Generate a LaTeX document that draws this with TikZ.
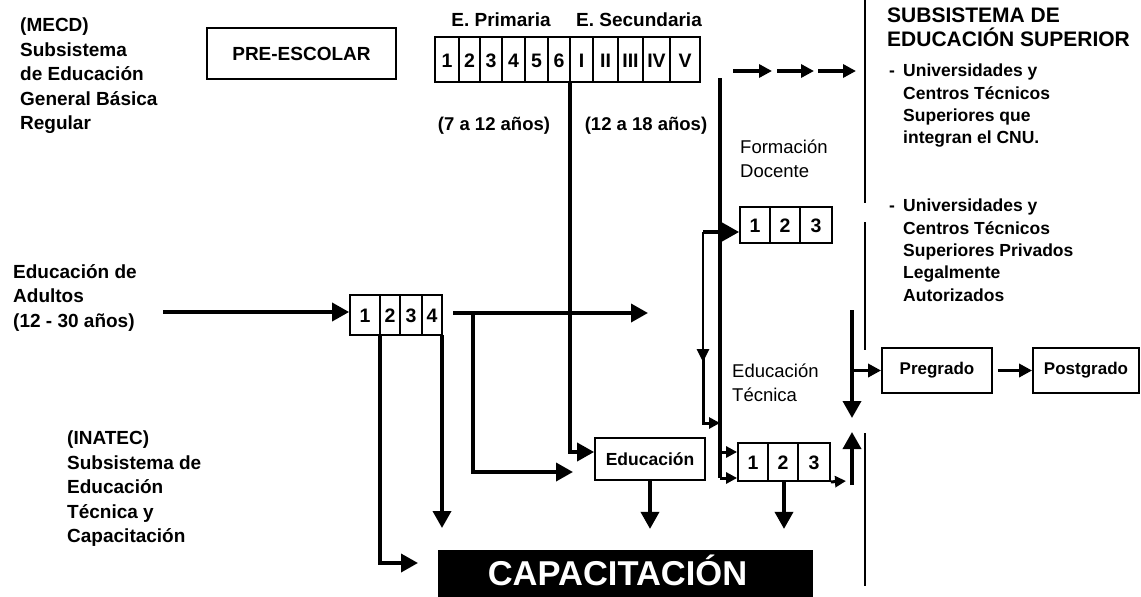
\documentclass[tikz,border=0pt]{standalone}
\usepackage{fontspec}
\setmainfont{Liberation Sans}
\usetikzlibrary{arrows.meta}
\begin{document}
\begin{tikzpicture}[x=1pt,y=-1pt,
  txt/.style={font=\fontsize{19}{24.5}\selectfont\bfseries, align=left, anchor=north west, inner sep=0pt},
  rtxt/.style={font=\fontsize{18.5}{24}\selectfont, align=left, anchor=north west, inner sep=0pt},
  ltxt/.style={font=\fontsize{17.5}{22.3}\selectfont\bfseries, align=left, anchor=north west, inner sep=0pt},
  box/.style={draw, line width=1.8pt, inner sep=0pt, font=\fontsize{19}{23}\selectfont\bfseries},
  cell/.style={inner sep=0pt, anchor=base, font=\fontsize{19.5}{23}\selectfont\bfseries},
  head/.style={inner sep=0pt, font=\fontsize{19}{23}\selectfont\bfseries},
  div/.style={line width=1.4pt},
  conn/.style={line width=3.6pt, -{Triangle[length=17pt,width=18pt]}},
  mconn/.style={line width=3.4pt, -{Triangle[length=13pt,width=13pt]}},
  sconn/.style={line width=3pt, -{Triangle[length=11pt,width=11pt]}},
  plain/.style={line width=3.6pt},
  thin/.style={line width=1.8pt}
]
\useasboundingbox (0,0) rectangle (1141,597);

% left texts
\node[txt] (mecd) at (20,18) {(MECD)\\Subsistema\\de Educación\\General Básica\\Regular};
\node[txt] (adult) at (13,264) {Educación de\\Adultos\\(12 - 30 años)};
\node[txt] (inatec) at (67,431) {(INATEC)\\Subsistema de\\Educación\\Técnica y\\Capacitación};

% pre-escolar
\node[box, minimum width=189pt, minimum height=51pt] (pre) at (301.5,53.5) {PRE-ESCOLAR};

% headings
\node[head] (prim) at (501,20) {E. Primaria};
\node[head] (sec) at (639,20) {E. Secundaria};

% grade box
\node[box, minimum width=265pt, minimum height=45pt] (grades) at (567.5,59.5) {};
\foreach \x in {459,480,502,525,548,570,593,618,643,670}
  \draw[div] (\x,37) -- (\x,82);
\foreach \x/\t [count=\i] in {447/1,469.5/2,491/3,513.5/4,536.5/5,559/6,581.5/I,605.5/II,630.5/III,656.5/IV,685/V}
  \node[cell] (g\i) at (\x,67) {\t};

\node[head, font=\fontsize{18.5}{22}\selectfont\bfseries] (age1) at (494,126) {(7 a 12 años)};
\node[head, font=\fontsize{18.5}{22}\selectfont\bfseries] (age2) at (646,126) {(12 a 18 años)};

% dashed arrows
\coordinate (d0) at (733,71);
\coordinate (d1) at (772,71);
\coordinate (d2) at (777,71);
\coordinate (d3) at (814,71);
\coordinate (d4) at (818,71);
\coordinate (d5) at (856,71);
\draw[mconn] (d0) -- (d1);
\draw[mconn] (d2) -- (d3);
\draw[mconn] (d4) -- (d5);

% right divider line
\draw[thin] (865,0) -- (865,203);
\draw[thin] (865,222) -- (865,350);
\draw[thin] (865,433) -- (865,586);

% superior
\node[txt, font=\fontsize{21}{24}\selectfont\bfseries] (sup) at (887,8) {SUBSISTEMA DE\\EDUCACIÓN SUPERIOR};
\node[ltxt] (uni1) at (889,64) {\makebox[14pt][l]{-}Universidades y\\\hspace*{14pt}Centros Técnicos\\\hspace*{14pt}Superiores que\\\hspace*{14pt}integran el CNU.};
\node[ltxt] (uni2) at (889,199) {\makebox[14pt][l]{-}Universidades y\\\hspace*{14pt}Centros Técnicos\\\hspace*{14pt}Superiores Privados\\\hspace*{14pt}Legalmente\\\hspace*{14pt}Autorizados};

% formacion docente
\node[rtxt] (fdlab) at (740,140) {Formación\\Docente};
\node[box, minimum width=92pt, minimum height=36pt] (fd) at (786,225) {};
\draw[div] (770,207) -- (770,243);
\draw[div] (800,207) -- (800,243);
\node[cell] (fd1) at (755,232) {1};
\node[cell] (fd2) at (785,232) {2};
\node[cell] (fd3) at (816,232) {3};

% educacion tecnica
\node[rtxt] (etlab) at (732,364) {Educación\\Técnica};
\node[box, minimum width=92pt, minimum height=38pt] (et) at (784,462) {};
\draw[div] (768,443) -- (768,481);
\draw[div] (798,443) -- (798,481);
\node[cell] (et1) at (753,469.5) {1};
\node[cell] (et2) at (783,469.5) {2};
\node[cell] (et3) at (814,469.5) {3};

% pregrado / postgrado
\node[box, font=\fontsize{17}{22}\selectfont\bfseries, minimum width=110pt, minimum height=45pt] (preg) at (937,370.5) {Pregrado};
\node[box, font=\fontsize{17}{22}\selectfont\bfseries, minimum width=106pt, minimum height=45pt] (postg) at (1086,370.5) {Postgrado};
\draw[mconn] (preg.east) ++(5,0) coordinate (pp) -- (postg.west);

% educacion box
\node[box, font=\fontsize{17.5}{22}\selectfont\bfseries, minimum width=110pt, minimum height=42pt] (edu) at (650,459) {Educación};

% adult box
\node[box, minimum width=92pt, minimum height=40pt] (ab) at (396,315) {};
\draw[div] (380,295) -- (380,335);
\draw[div] (400,295) -- (400,335);
\draw[div] (422,295) -- (422,335);
\node[cell] (ab1) at (365,322) {1};
\node[cell] (ab2) at (390,322) {2};
\node[cell] (ab3) at (411,322) {3};
\node[cell] (ab4) at (432,322) {4};

% capacitacion
\node[fill=black, inner sep=0pt, minimum width=375pt, minimum height=47pt] (cap) at (625.5,573.5) {};
\node[text=white, inner sep=0pt, anchor=base, font=\fontsize{34.5}{40}\selectfont\bfseries] (captxt) at (617.5,585) {CAPACITACIÓN};

% connectors
\coordinate (adultstart) at (163,312);
\draw[conn] (adultstart) -- (ab.west |- adultstart);
\draw[conn] (380,335) -- (380,563) -- (418,563);
\draw[conn] (442,335) -- (442,528);
\coordinate (abr) at (453,313);
\draw[conn] (abr) -- (648,313);
\draw[conn] (473,313) -- (473,472) -- (573,472);
\draw[conn] (570,82) -- (570,452) -- (edu.west |- 0,452);
\draw[conn] (edu.south) -- ++(0,48);
\draw[conn] (et.south) -- ++(0,47);

% 720 line
\draw[plain] (720,78) -- (720,478);
\draw[sconn] (720,452) -- (et.west |- 0,452);
\draw[sconn] (720,478) -- (et.west |- 0,478);
\draw[conn] (703,232) -- (fd.west |- 0,232);
\draw[line width=2.8pt, -{Triangle[length=13pt,width=12pt]}] (703,232) -- (703,362);
\draw[sconn] (703,356) -- (703,423) -- (720,423);
\draw[sconn] (et.south east) -- (846,481);

% 852 arrows
\draw[conn] (852,310) -- (852,418);
\draw[mconn] (852,370.5) -- (preg.west);
\draw[conn] (852,485) -- (852,432);

\end{tikzpicture}
\end{document}
